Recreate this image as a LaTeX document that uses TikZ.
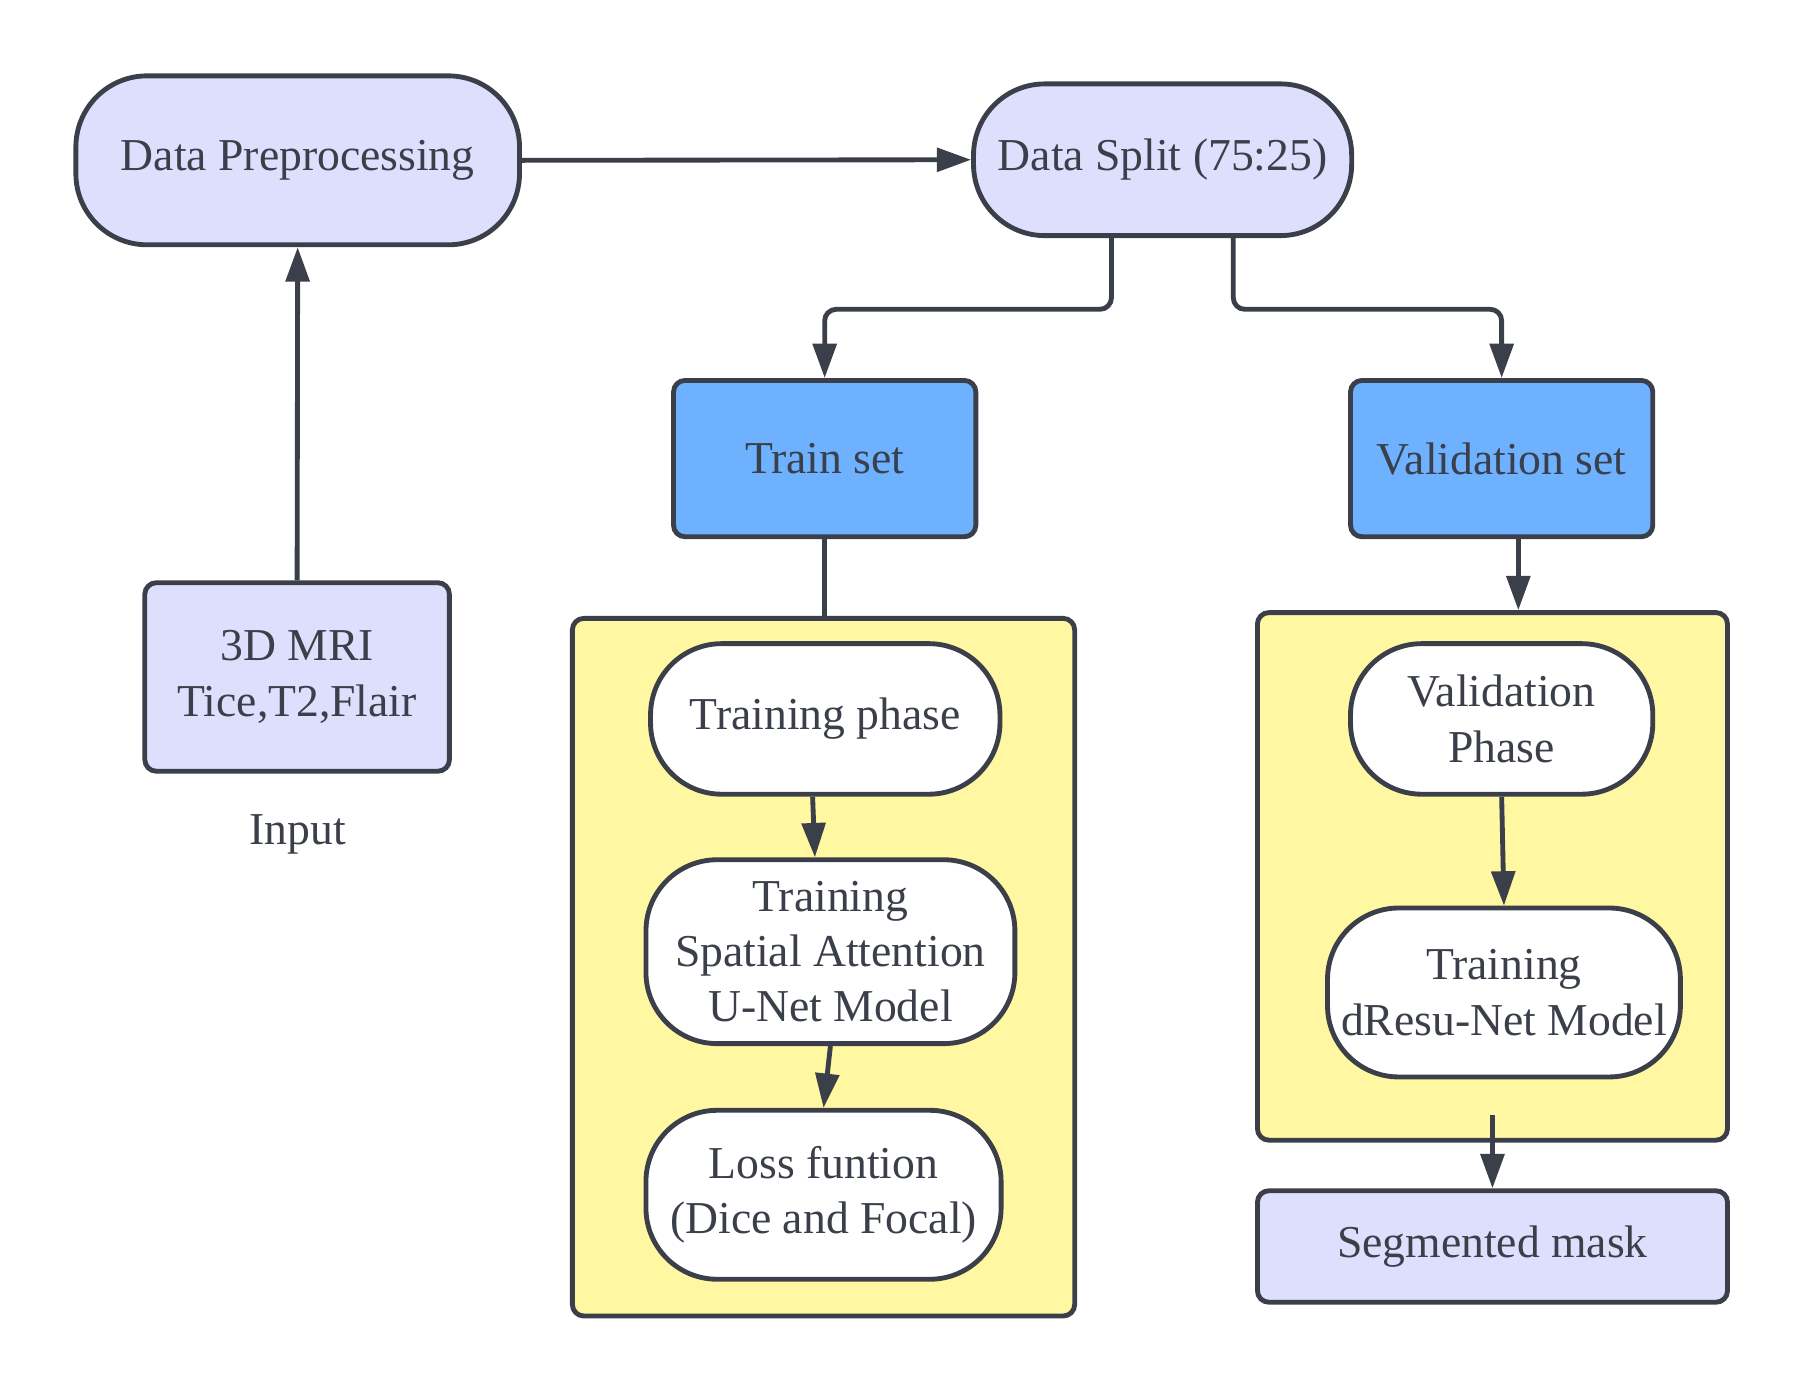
\documentclass[tikz,border=0pt]{standalone}
\usepackage{xcolor}
\usepackage{fontspec}
\setmainfont{Liberation Serif}
\usetikzlibrary{shapes,arrows.meta}

\definecolor{ink}{HTML}{3A3F4A}
\definecolor{lav}{HTML}{DEDFFC}
\definecolor{skyb}{HTML}{6DB1FF}
\definecolor{lemon}{HTML}{FFF7A1}

\tikzset{
    every node/.style = {font=\fontsize{11.3}{13.7}\selectfont, text=ink, align=center, inner sep=0pt},
    pill/.style = {rectangle, rounded corners=0.62cm, draw=ink, line width=1.2pt},
    boxn/.style = {rectangle, rounded corners=0.1cm, draw=ink, line width=1.2pt},
    conn/.style = {draw=ink, line width=1.2pt, -{Triangle[length=8.5pt,width=5.8pt]}},
    link/.style = {draw=ink, line width=1.2pt}
}

\begin{document}
\begin{tikzpicture}
    \useasboundingbox (0,0) rectangle (15.6,12.06);

    % containers
    \node (ybl)[boxn, fill=lemon, minimum width=4.37cm, minimum height=6.07cm] at (7.165, 3.645) {};
    \node (ybr)[boxn, fill=lemon, minimum width=4.09cm, minimum height=4.59cm] at (12.985, 4.435) {};

    \node (dp)[pill, fill=lav, minimum width=3.86cm, minimum height=1.47cm] at (2.59, 10.665) {Data Preprocessing};
    \node (ds)[pill, fill=lav, minimum width=3.29cm, minimum height=1.32cm] at (10.115, 10.67) {Data Split (75:25)};
    \node (tr)[boxn, fill=skyb, minimum width=2.63cm, minimum height=1.36cm] at (7.175, 8.07) {Train set};
    \node (vs)[boxn, fill=skyb, minimum width=2.63cm, minimum height=1.36cm] at (13.065, 8.07) {Validation set};
    \node (mri)[boxn, fill=lav, minimum width=2.65cm, minimum height=1.64cm] at (2.585, 6.17) {3D MRI\\Tice,T2,Flair};
    \node (in) at (2.59, 4.80) {Input};

    \node (tp)[pill, fill=white, minimum width=3.04cm, minimum height=1.31cm] at (7.18, 5.805) {Training phase};
    \node (sa)[pill, fill=white, minimum width=3.21cm, minimum height=1.60cm] at (7.225, 3.78) {Training\\Spatial Attention\\U-Net Model};
    \node (lf)[pill, fill=white, minimum width=3.09cm, minimum height=1.47cm] at (7.165, 1.665) {Loss funtion\\(Dice and Focal)};

    \node (vp)[pill, fill=white, minimum width=2.63cm, minimum height=1.31cm] at (13.065, 5.805) {Validation\\Phase};
    \node (dr)[pill, fill=white, minimum width=3.07cm, minimum height=1.47cm] at (13.085, 3.425) {Training\\dResu-Net Model};
    \node (sm)[boxn, fill=lav, minimum width=4.09cm, minimum height=0.97cm] at (12.985, 1.215) {Segmented mask};

    \draw[conn] (mri.north) -- (dp.south);
    \draw[conn] (dp.east) -- (ds.west);
    \draw[conn, rounded corners=0.1cm] ([xshift=-0.445cm]ds.south) -- ++(0,-0.62) -| (tr.north);
    \draw[conn, rounded corners=0.1cm] ([xshift=0.615cm]ds.south) -- ++(0,-0.62) -| (vs.north);
    \draw[link] (tr.south) -- (tr.south |- ybl.north);
    \draw[conn] ([xshift=0.145cm]vs.south) -- ([xshift=0.145cm]vs.south |- ybr.north);
    \draw[conn] ([xshift=-0.11cm]tp.south) -- ([xshift=-0.135cm]sa.north);
    \draw[conn] (sa.south) -- (lf.north);
    \draw[conn] (vp.south) -- (dr.north);
    \draw[conn] ([yshift=0.24cm]ybr.south) -- (sm.north);

\end{tikzpicture}
\end{document}
